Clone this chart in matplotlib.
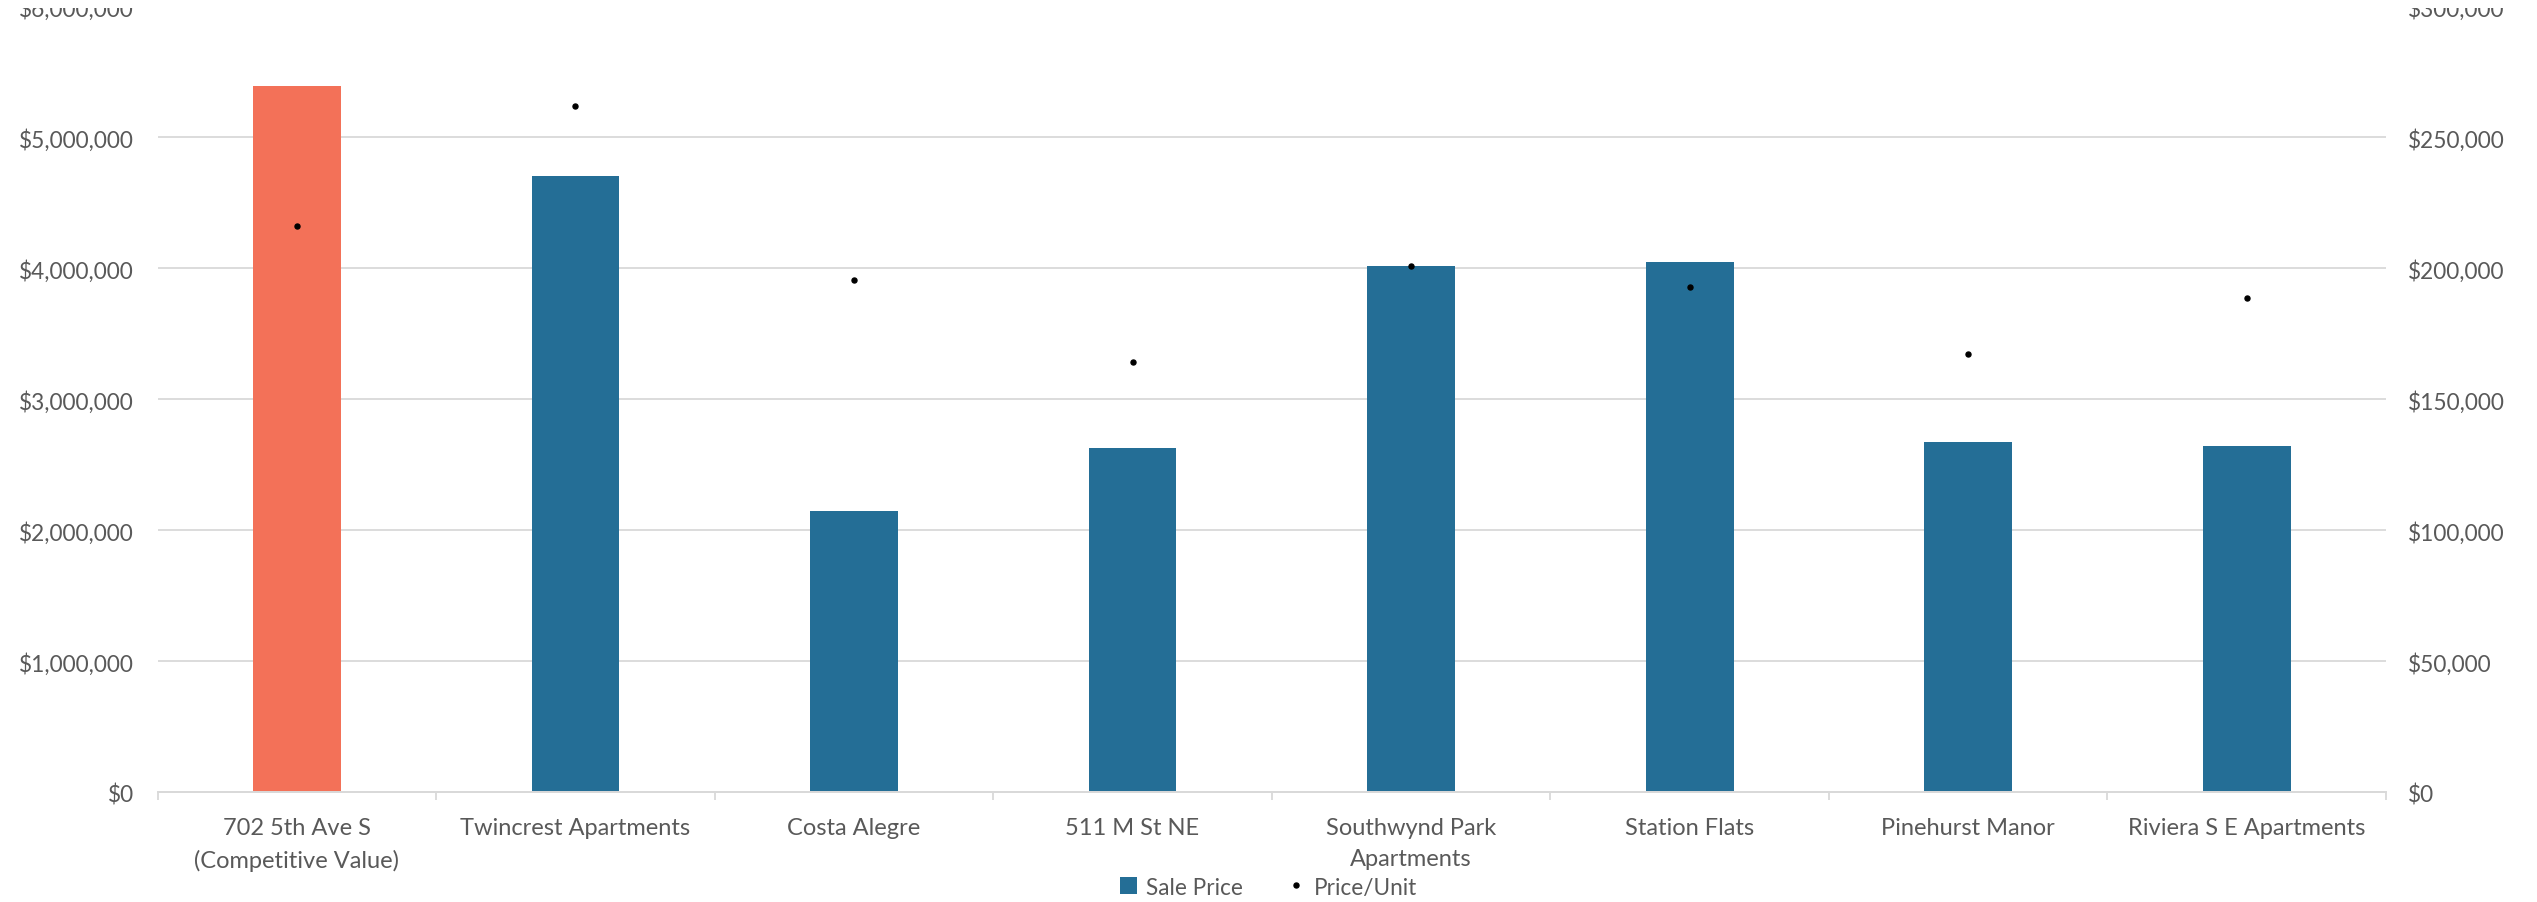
import matplotlib
matplotlib.use("Agg")
import matplotlib.pyplot as plt
from matplotlib.ticker import FuncFormatter, FixedLocator
from matplotlib.lines import Line2D
from matplotlib.patches import Patch, Rectangle
import numpy as np

# data
properties = [
    "702 5th Ave S\n(Competitive Value)",
    "Twincrest Apartments",
    "Costa Alegre",
    "511 M St NE",
    "Southwynd Park\nApartments",
    "Station Flats",
    "Pinehurst Manor",
    "Riviera S E Apartments",
]
sale_price = [5390000, 4705000, 2147000, 2629000, 4012000, 4048000, 2675000, 2644000]
price_per_unit = [216000, 261700, 195500, 164200, 200800, 192900, 167300, 188600]

SUBJECT_COLOR = "#f37158"
COMP_COLOR = "#246e96"
TEXT_COLOR = "#595959"
GRID_COLOR = "#d9d9d9"

plt.rcParams['font.family'] = ['Lato', 'DejaVu Sans']

fig = plt.figure(figsize=(25.37, 9.03), dpi=100)
ax = fig.add_axes([0.0621, 0.1218, 0.8784, 0.8704])
ax2 = ax.twinx()

x = np.arange(len(properties))
colors = [SUBJECT_COLOR] + [COMP_COLOR] * (len(properties) - 1)
ax.bar(x, sale_price, width=0.315, color=colors, zorder=2)

ax2.plot(x, price_per_unit, linestyle="none", marker="o", markersize=3.6,
         color="black", zorder=3)

# axes ranges (left 0-6M, right 0-300k)
ax.set_xlim(-0.5, len(properties) - 0.5)
ax.set_ylim(0, 6000000)
ax2.set_ylim(0, 300000)
ax.set_yticks(np.arange(0, 6000001, 1000000))
ax2.set_yticks(np.arange(0, 300001, 50000))

ax.yaxis.set_major_formatter(FuncFormatter(lambda v, p: f"${v:,.0f}"))
ax2.yaxis.set_major_formatter(FuncFormatter(lambda v, p: f"${v:,.0f}"))

ax.grid(axis="y", color=GRID_COLOR, linewidth=1.3, zorder=0)
ax.set_axisbelow(True)

for a in (ax, ax2):
    for s in ("left", "right", "top"):
        a.spines[s].set_visible(False)
    a.spines["bottom"].set_color(GRID_COLOR)
    a.spines["bottom"].set_linewidth(1.3)

ax.tick_params(axis="y", length=0, pad=17, labelsize=16.3, labelcolor=TEXT_COLOR)
ax2.tick_params(axis="y", length=0, pad=16, labelsize=16.3, labelcolor=TEXT_COLOR)

ax.set_xticks(x)
ax.set_xticklabels(properties, fontsize=17, color=TEXT_COLOR, linespacing=1.6)
ax.tick_params(axis="x", which="major", length=0, pad=18)
ax.xaxis.set_minor_locator(FixedLocator(np.arange(-0.5, len(properties), 1.0)))
ax.tick_params(axis="x", which="minor", length=5.8, width=1.3, color=GRID_COLOR)

handles = [
    Patch(facecolor=COMP_COLOR, edgecolor="none"),
    Line2D([], [], linestyle="none", marker="o", markersize=3.6, color="black"),
]
fig.legend(handles, ["Sale Price", "Price/Unit"], loc="center",
           bbox_to_anchor=(0.5, 0.0166), ncol=2, frameon=False,
           fontsize=16.3, labelcolor=TEXT_COLOR, handlelength=0.75,
           handleheight=0.75, handletextpad=0.4, columnspacing=2.0)

# the source image is cropped at the top edge, cutting the top labels
fig.patches.append(Rectangle((0, 1 - 9 / 903), 1, 9 / 903, transform=fig.transFigure,
                             facecolor="white", edgecolor="none", zorder=10))

fig.savefig("out.png", dpi=100)
